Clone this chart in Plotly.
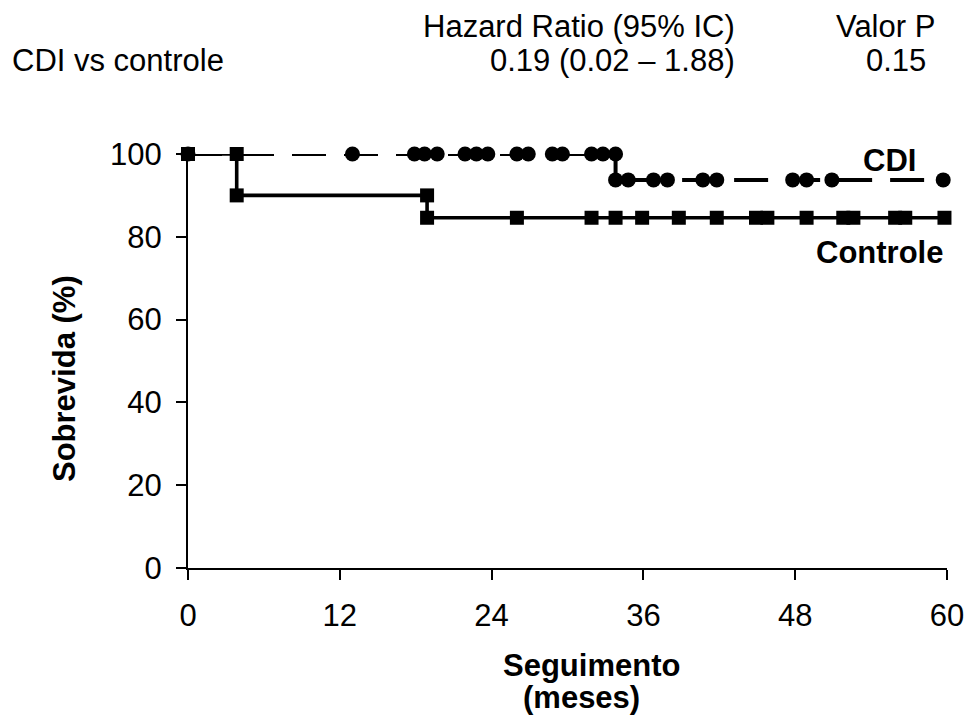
import plotly.graph_objects as go

# Data
cdi_time = [0, 13, 17.9, 18.7, 19.7, 21.9, 22.8, 23.7, 26.0, 26.9, 28.8, 29.6,
            31.9, 32.8, 33.8, 33.8, 34.8, 36.8, 37.9, 40.7, 41.8, 47.8, 48.9, 50.9, 59.7]
cdi_surv = [100] * 15 + [93.75] * 10

ctrl_time = [0, 3.85, 3.85, 18.9, 18.9, 26.0, 31.9, 33.8, 35.9, 38.8, 41.8,
             44.9, 45.8, 48.9, 51.8, 52.6, 55.9, 56.7, 59.8]
ctrl_surv = [100, 100, 90, 90] + [84.6] * 15

x_ticks = [0, 12, 24, 36, 48, 60]
y_ticks = [0, 20, 40, 60, 80, 100]

FONT = "Liberation Sans"
FS = 31

W, H = 967, 724
L, R, T, B = 188, 947, 154, 568


def px(xp):
    return (xp - L) / (R - L)


def py(yp):
    return (B - yp) / (B - T)


fig = go.Figure()
fig.add_trace(go.Scatter(
    x=cdi_time, y=cdi_surv, mode="lines+markers", name="CDI",
    line=dict(color="black", width=4, dash="34px,18px"),
    marker=dict(symbol="circle", size=15, color="black"),
    cliponaxis=False, showlegend=False))
fig.add_trace(go.Scatter(
    x=ctrl_time, y=ctrl_surv, mode="lines+markers", name="Controle",
    line=dict(color="black", width=3.6),
    marker=dict(symbol="square", size=14, color="black"),
    cliponaxis=False, showlegend=False))

fig.update_layout(
    width=W, height=H, autosize=False,
    margin=dict(l=L, r=W - R, t=T, b=H - B, pad=0),
    paper_bgcolor="white", plot_bgcolor="white",
    font=dict(family=FONT, size=FS, color="black"),
    xaxis=dict(range=[0, 60], tickvals=x_ticks, ticktext=[str(v) for v in x_ticks],
               showgrid=False, zeroline=False, showline=True, linecolor="black",
               linewidth=2, ticks="outside", ticklen=10, tickwidth=2, tickcolor="black",
               ticklabelstandoff=9, tickfont=dict(size=FS), automargin=False),
    yaxis=dict(range=[0, 100], tickvals=y_ticks, ticktext=[str(v) for v in y_ticks],
               showgrid=False, zeroline=False, showline=True, linecolor="black",
               linewidth=2, ticks="outside", ticklen=10, tickwidth=2, tickcolor="black",
               ticklabelstandoff=8, tickfont=dict(size=FS), automargin=False),
)

ann = [
    dict(text="Hazard Ratio (95% IC)", x=px(737), y=py(27), xanchor="right", yanchor="middle"),
    dict(text="Valor P", x=px(937), y=py(27), xanchor="right", yanchor="middle"),
    dict(text="CDI vs controle", x=px(10), y=py(60), xanchor="left", yanchor="middle"),
    dict(text="0.19 (0.02 – 1.88)", x=px(737), y=py(60), xanchor="right", yanchor="middle"),
    dict(text="0.15", x=px(928), y=py(60), xanchor="right", yanchor="middle"),
    dict(text="<b>CDI</b>", x=px(918), y=py(161), xanchor="right", yanchor="middle"),
    dict(text="<b>Controle</b>", x=px(945), y=py(252), xanchor="right", yanchor="middle"),
    dict(text="<b>Seguimento</b>", x=px(591), y=py(665), xanchor="center", yanchor="middle"),
    dict(text="<b>(meses)</b>", x=px(581), y=py(697), xanchor="center", yanchor="middle"),
    dict(text="<b>Sobrevida (%)</b>", x=px(64), y=py(379), xanchor="center", yanchor="middle",
         textangle=-90),
]
for a in ann:
    fig.add_annotation(xref="paper", yref="paper", showarrow=False,
                       font=dict(family=FONT, size=FS, color="black"), **a)

fig.write_html("out.html")
